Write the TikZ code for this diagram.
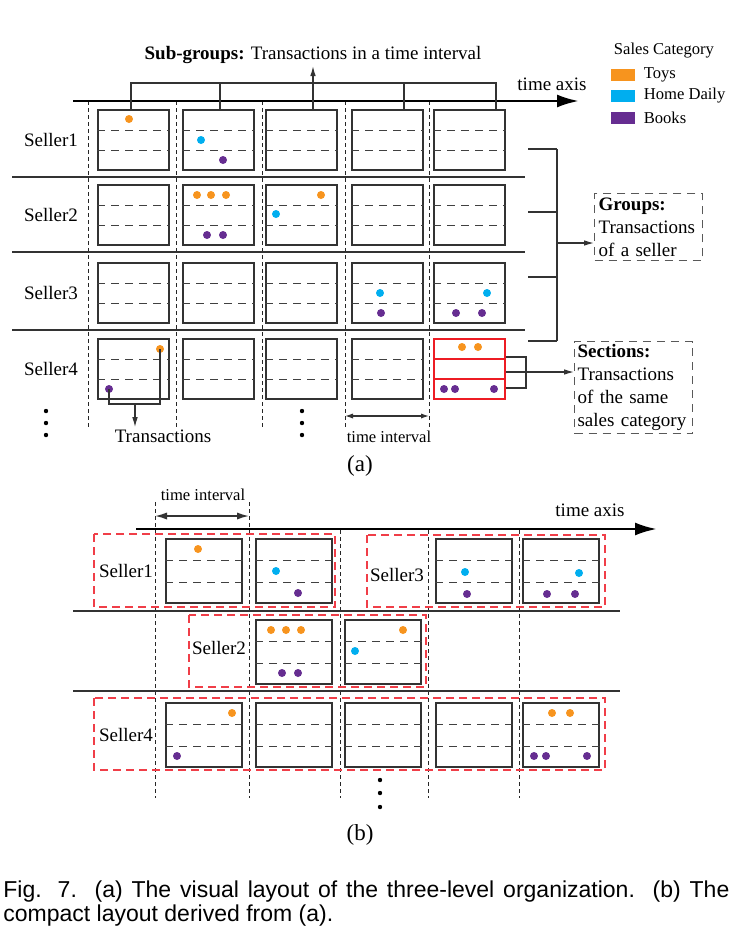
\documentclass[tikz,border=0pt]{standalone}
\usepackage{fontspec}
\setmainfont{Liberation Serif}
\setsansfont{Liberation Sans}
\usetikzlibrary{positioning, arrows.meta}
\definecolor{toys}{RGB}{247,148,30}
\definecolor{homed}{RGB}{0,174,239}
\definecolor{books}{RGB}{102,45,145}
\definecolor{secred}{RGB}{237,28,36}
\definecolor{grpred}{RGB}{240,62,72}
\tikzset{
  cella/.style  = {rectangle, draw=black!80, line width=0.8pt, minimum width=35.5pt, minimum height=30pt, inner sep=0},
  cellb/.style  = {rectangle, draw=black!80, line width=0.8pt, minimum width=38pt, minimum height=32pt, inner sep=0},
  slot/.style   = {black!75, line width=0.5pt, dash pattern=on 4pt off 3pt},
  colsep/.style = {black!85, line width=0.5pt, dash pattern=on 2pt off 1.5pt},
  rowline/.style= {black!80, line width=0.7pt},
  axis/.style   = {black, line width=1.4pt, -{Latex[length=11pt, width=6.5pt]}},
  link/.style   = {black!80, line width=0.6pt},
  tip/.style    = {link, -{Latex[length=5pt, width=2.8pt]}},
  span/.style   = {link, {Latex[length=4pt, width=2.6pt]}-{Latex[length=4pt, width=2.6pt]}},
  et/.style     = {font=\fontsize{9.5}{11.5}\selectfont, inner sep=1pt},
  small/.style  = {font=\fontsize{8.3}{10}\selectfont, inner sep=1pt},
  info/.style   = {draw=black!65, line width=0.6pt, dash pattern=on 4pt off 3pt, align=left, inner sep=2pt,
                   anchor=north west, font=\fontsize{9.5}{11.5}\selectfont},
  swatch/.style = {rectangle, minimum width=12pt, minimum height=6pt, inner sep=0},
  seller/.style = {draw=grpred, line width=0.8pt, dash pattern=on 4pt off 2.5pt},
  sub/.style    = {font=\fontsize{11.5}{13}\selectfont},
  figcap/.style = {anchor=base west, inner sep=0, font=\sffamily\fontsize{11.5}{13}\selectfont}
}

\begin{document}
\begin{tikzpicture}[x=0.5pt, y=-0.5pt]
  \useasboundingbox (0,0) rectangle (736,939);

  % ---------- (a) time axis and columns ----------
  \foreach \x [count=\i] in {88,176,262,345,429} {
    \coordinate (ca\i) at (\x,101);
    \draw[colsep] (\x,101) -- (\x,427);
  }
  \coordinate (ta0) at (73,101); \coordinate (ta1) at (579,101);
  \draw[axis] (ta0) -- (ta1);
  \node[et] (tal) at (552,84) {time axis};
  \foreach \y in {177,252,330} \draw[rowline] (12,\y) -- (525,\y);

  \node[et] (s1) at (51,140) {Seller1};
  \node[et] (s2) at (51,215) {Seller2};
  \node[et] (s3) at (51,293) {Seller3};
  \node[et] (s4) at (51,369) {Seller4};

  \foreach \r/\y in {1/140,2/215,3/293,4/369}
    \foreach \c/\x in {1/133.5,2/218.5,3/301.5,4/387.5,5/469.5} {
      \node[cella] (a\r\c) at (\x,\y) {};
      \draw[slot] ([yshift=5pt]a\r\c.west) -- ([yshift=5pt]a\r\c.east);
      \draw[slot] ([yshift=-5pt]a\r\c.west) -- ([yshift=-5pt]a\r\c.east);
    }
  % sections (red)
  \node[cella, draw=secred, fill=white, line width=1pt] (sec) at (469.5,369) {};
  \draw[secred, line width=0.9pt] ([yshift=5pt]sec.west) -- ([yshift=5pt]sec.east);
  \draw[secred, line width=0.9pt] ([yshift=-5pt]sec.west) -- ([yshift=-5pt]sec.east);

  % transactions
  \foreach \x/\y in {129/119,197/195,211/195,226/195,321/195,462/347,478/347} \fill[toys] (\x,\y) circle (2pt);
  \foreach \x/\y in {201/140,276/214,380/293,487/293} \fill[homed] (\x,\y) circle (2pt);
  \foreach \x/\y in {223/160,207/235,223/235,381/313,456/313,482/313,444/389,455/389,494/389} \fill[books] (\x,\y) circle (2pt);
  \coordinate (a41o) at (160,349); \coordinate (a41p) at (109,389); \coordinate (tj) at (135,404);
  \fill[toys] (a41o) circle (2pt); \fill[books] (a41p) circle (2pt);
  \draw[link] (a41o) -- (a41o |- tj) -- (a41p |- tj) -- (a41p);
  \node[et] (trl) at (163,436) {Transactions};
  \draw[tip] (tj) -- (tj |- trl.north);
  \foreach \y in {411,423,435} { \fill (46,\y) circle (1.1pt); \fill (302,\y) circle (1.1pt); }

  % ---------- sub-groups ----------
  \node[et] (sgl) at (313,55) {\textbf{Sub-groups:} Transactions in a time interval};
  \coordinate (sg1) at (131,83); \coordinate (sg2) at (220,83);
  \coordinate (sg3) at (404,83); \coordinate (sg4) at (496,83);
  \draw[link] (sg1 |- a11.north) -- (sg1) -- (sg4) -- (sg4 |- a15.north);
  \draw[link] (sg2) -- (sg2 |- a12.north);
  \draw[link] (sg3) -- (sg3 |- a14.north);
  \draw[tip] (sgl.south |- a13.north) -- (sgl.south);

  % ---------- legend ----------
  \node[small] (lgt) at (664,51) {Sales Category};
  \node[swatch, fill=toys]  (lg1) at (623,75) {};
  \node[swatch, fill=homed] (lg2) at (623,96) {};
  \node[swatch, fill=books] (lg3) at (623,118) {};
  \node[small, right=3pt of lg1] {Toys};
  \node[small, right=3pt of lg2] {Home Daily};
  \node[small, right=3pt of lg3] {Books};

  % time interval (a)
  \coordinate (ti1) at (345,416); \coordinate (ti2) at (429,416);
  \draw[span] (ti1) -- (ti2);
  \node[small] (til) at (389,437) {time interval};

  % ---------- groups / sections ----------
  \foreach \y in {149,212,277,341} \draw[link] (528,\y) -- (557,\y);
  \draw[link] (557,149) -- (557,341);
  \node[info, text width=50pt] (grp) at (594,193) {\textbf{Groups:}\\Transactions\\of a seller};
  \coordinate (gj) at (557,243);
  \draw[tip] (gj) -- (gj -| grp.west);

  \node[info, text width=56pt, inner sep=1.5pt] (sect) at (574,341) {\textbf{Sections:}\\Transactions\\of the same\\\mbox{sales category}};
  \draw[link] ([yshift=6pt]sec.east) -- ++(10pt,0) |- ([yshift=-9.5pt]sec.east);
  \coordinate (sj) at ([yshift=-1.5pt]sec.east);
  \draw[tip] (sj) -- (sj -| sect.west);

  \node[sub] (la) at (360,466) {(a)};

  % ---------- (b) compact layout ----------
  \foreach \x/\t in {155/502,249/502,340/530,428/530,519/530} \draw[colsep] (\x,\t) -- (\x,798);
  \coordinate (tb1) at (155,516); \coordinate (tb2) at (249,516);
  \draw[link, {Latex[length=6pt, width=3.6pt]}-{Latex[length=6pt, width=3.6pt]}, line width=0.8pt] (tb1) -- (tb2);
  \node[small] (tbl) at (203,495) {time interval};
  \coordinate (tx0) at (136,529); \coordinate (tx1) at (657,529);
  \draw[axis] (tx0) -- (tx1);
  \node[et] (txl) at (590,510) {time axis};
  \foreach \y in {611,691} \draw[rowline] (73,\y) -- (620,\y);

  \foreach \n/\x/\y in {11/204/571,12/294/571,14/474/571,15/561/571,22/294/652,23/383/652,
                        41/204/735,42/294/735,43/383/735,44/474/735,45/561/735} {
    \node[cellb] (b\n) at (\x,\y) {};
    \draw[slot] ([yshift=5.5pt]b\n.west) -- ([yshift=5.5pt]b\n.east);
    \draw[slot] ([yshift=-5.5pt]b\n.west) -- ([yshift=-5.5pt]b\n.east);
  }
  \draw[seller] (94,534) rectangle (335,607);
  \draw[seller] (367,535) rectangle (605,607);
  \draw[seller] (189,615) rectangle (426,687);
  \draw[seller] (94,698) rectangle (605,770);
  \node[et] (t1) at (126,571) {Seller1};
  \node[et] (t3) at (397,575) {Seller3};
  \node[et] (t2) at (219,648) {Seller2};
  \node[et] (t4) at (126,735) {Seller4};

  \foreach \x/\y in {198/549,271/630,286/630,301/630,403/630,232/713,552/713,570/713} \fill[toys] (\x,\y) circle (2pt);
  \foreach \x/\y in {276/571,465/572,579/573,355/651} \fill[homed] (\x,\y) circle (2pt);
  \foreach \x/\y in {298/593,467/594,547/594,575/594,282/673,298/673,177/756,534/756,546/756,587/756} \fill[books] (\x,\y) circle (2pt);
  \foreach \y in {780,793,807} \fill (380,\y) circle (1.1pt);

  \node[sub] (lb) at (360,835) {(b)};

  % ---------- caption ----------
  \node[figcap] (cap1) at (3,897) {\makebox[363pt][s]{Fig. 7.\ \ (a) The visual layout of the three-level organization.\ \ (b) The}};
  \node[figcap] (cap2) at (3,921) {compact layout derived from (a).};

\end{tikzpicture}
\end{document}
